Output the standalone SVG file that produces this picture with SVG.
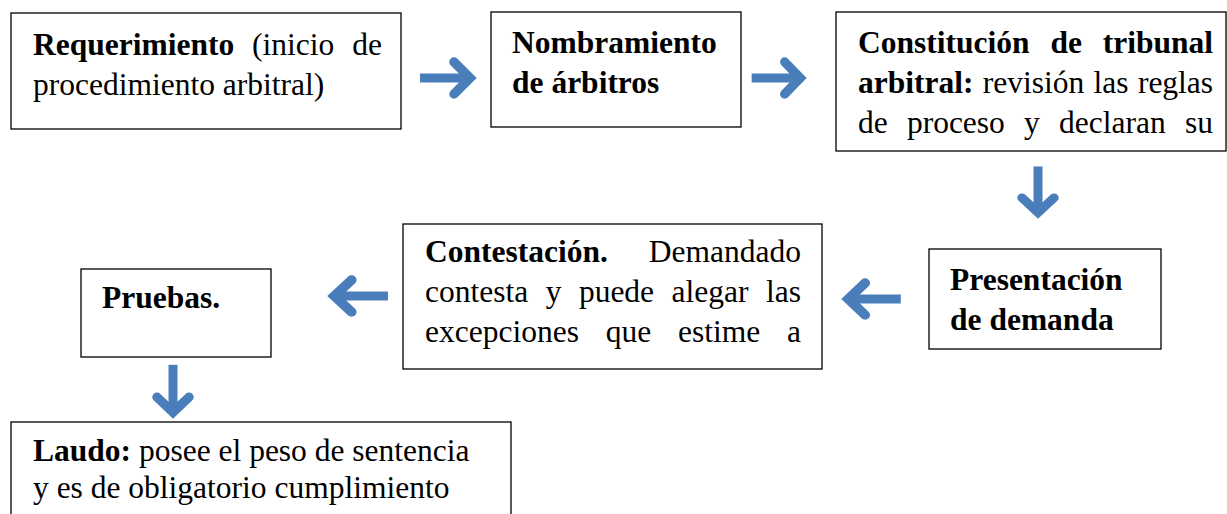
<svg xmlns="http://www.w3.org/2000/svg" xmlns:xlink="http://www.w3.org/1999/xlink" width="1227" height="514" viewBox="0 0 1227 514">
<style>
.box{fill:#fff;stroke:#000;stroke-width:1.3}
.t text{font-family:'Liberation Serif','Tinos','Times New Roman','DejaVu Serif',serif;font-size:31.5px;fill:#000}
.b{font-weight:bold}
.sh{fill:none;stroke:#4A7EBB;stroke-width:9;stroke-linecap:butt}
.ch{fill:none;stroke:#4A7EBB;stroke-width:9.5;stroke-linecap:round;stroke-linejoin:miter;stroke-miterlimit:4}
</style>
<defs>
<g id="arrow">
<path class="sh" d="M-56,0 H-8"/>
<path class="ch" d="M-22,-16 L-6,0 L-22,16"/>
</g>
</defs>
<rect width="1227" height="514" fill="#fff"/>
<g id="connectors">
<use xlink:href="#arrow" transform="translate(476,78)"/>
<use xlink:href="#arrow" transform="translate(806,78) scale(0.97,1)"/>
<use xlink:href="#arrow" transform="translate(1038,218) rotate(90) scale(0.92,1)"/>
<use xlink:href="#arrow" transform="translate(842,299) rotate(180) scale(1.05,1)"/>
<use xlink:href="#arrow" transform="translate(328,296) rotate(180) scale(1.07,1)"/>
<use xlink:href="#arrow" transform="translate(173,418) rotate(90) scale(0.95,1)"/>
</g>
<g class="t" font-family="Liberation Serif, serif">
<g id="n1">
<rect class="box" x="11" y="13" width="390" height="116"/>
<text x="33" y="55" class="b">Requerimiento</text>
<text x="252.1" y="55">(inicio</text>
<text x="352.2" y="55">de</text>
<text x="33" y="95">procedimiento arbitral)</text>
</g>
<g id="n2">
<rect class="box" x="491" y="12" width="250" height="115"/>
<text x="512" y="53" class="b">Nombramiento</text>
<text x="512" y="93" class="b">de árbitros</text>
</g>
<g id="n3">
<rect class="box" x="836" y="12" width="390" height="139"/>
<text x="858" y="53" class="b">Constitución</text>
<text x="1050.4" y="53" class="b">de</text>
<text x="1102.7" y="53" class="b">tribunal</text>
<text x="858" y="93" class="b">arbitral:</text>
<text x="982.8" y="93">revisión</text>
<text x="1093.6" y="93">las</text>
<text x="1137.9" y="93">reglas</text>
<text x="858" y="133">de</text>
<text x="906.9" y="133">proceso</text>
<text x="1024.1" y="133">y</text>
<text x="1059" y="133">declaran</text>
<text x="1185" y="133">su</text>
</g>
<g id="n4">
<rect class="box" x="929" y="249" width="232" height="100"/>
<text x="950" y="290" class="b">Presentación</text>
<text x="950" y="330" class="b">de demanda</text>
</g>
<g id="n5">
<rect class="box" x="403" y="224" width="419" height="145"/>
<text x="425" y="262" class="b">Contestación.</text>
<text x="648.8" y="262">Demandado</text>
<text x="425" y="302">contesta</text>
<text x="545.7" y="302">y</text>
<text x="578.9" y="302">puede</text>
<text x="671.5" y="302">alegar</text>
<text x="766" y="302">las</text>
<text x="425" y="342">excepciones</text>
<text x="605.7" y="342">que</text>
<text x="678" y="342">estime</text>
<text x="787" y="342">a</text>
</g>
<g id="n6">
<rect class="box" x="81" y="269" width="190" height="88"/>
<text x="102" y="308" class="b">Pruebas.</text>
</g>
<g id="n7">
<rect class="box" x="11" y="422" width="500" height="100"/>
<text x="33" y="461"><tspan class="b">Laudo:</tspan> posee el peso de sentencia</text>
<text x="33" y="498">y es de obligatorio cumplimiento</text>
</g>
</g>
</svg>
